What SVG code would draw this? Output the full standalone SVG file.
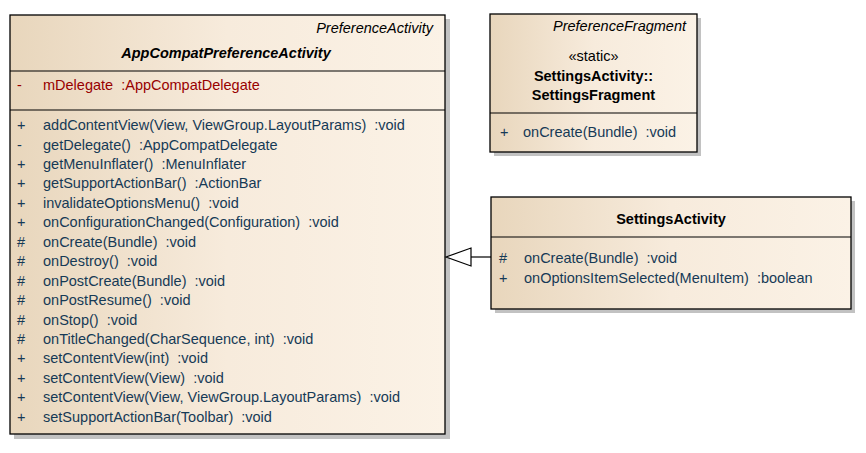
<svg xmlns="http://www.w3.org/2000/svg" width="866" height="453" viewBox="0 0 866 453">
<defs>
<linearGradient id="g" x1="0" y1="0" x2="1" y2="0">
<stop offset="0" stop-color="#E8D6BC"/>
<stop offset="0.5" stop-color="#F7EBDC"/>
<stop offset="1" stop-color="#FBF2E6"/>
</linearGradient>
<style>
text{font-family:"Liberation Sans",Arial,sans-serif;font-size:14.5px;fill:#000;white-space:pre}
.box{fill:url(#g);stroke:#000;stroke-width:1.3}
.sh{fill:#C2C2C2}
.sep{stroke:#000;stroke-width:1.2}
.it{font-style:italic}
.b{font-weight:bold}
.bi{font-weight:bold;font-style:italic}
.m{fill:#163A56}
.a{fill:#980000}
.mid{text-anchor:middle}
.end{text-anchor:end}
</style>
</defs>
<rect width="866" height="453" fill="#fff"/>

<g id="AppCompatPreferenceActivity">
<rect class="sh" x="14" y="19" width="436" height="420"/>
<rect class="box" x="10" y="15" width="435" height="419"/>
<line class="sep" x1="10" y1="71" x2="445" y2="71"/>
<line class="sep" x1="10" y1="110" x2="445" y2="110"/>
<text class="it end" x="433" y="33">PreferenceActivity</text>
<text class="bi mid" x="226" y="58">AppCompatPreferenceActivity</text>
<text class="a" x="17" y="90">-</text>
<text class="a" x="43" y="90" xml:space="preserve">mDelegate  :AppCompatDelegate</text>
<g class="m" xml:space="preserve">
<text class="m" x="17" y="130">+</text><text class="m" x="43" y="130">addContentView(View, ViewGroup.LayoutParams)  :void</text>
<text class="m" x="17" y="149.5">-</text><text class="m" x="43" y="149.5">getDelegate()  :AppCompatDelegate</text>
<text class="m" x="17" y="168.9">+</text><text class="m" x="43" y="168.9">getMenuInflater()  :MenuInflater</text>
<text class="m" x="17" y="188.4">+</text><text class="m" x="43" y="188.4">getSupportActionBar()  :ActionBar</text>
<text class="m" x="17" y="207.8">+</text><text class="m" x="43" y="207.8">invalidateOptionsMenu()  :void</text>
<text class="m" x="17" y="227.3">+</text><text class="m" x="43" y="227.3">onConfigurationChanged(Configuration)  :void</text>
<text class="m" x="17" y="246.7">#</text><text class="m" x="43" y="246.7">onCreate(Bundle)  :void</text>
<text class="m" x="17" y="266.2">#</text><text class="m" x="43" y="266.2">onDestroy()  :void</text>
<text class="m" x="17" y="285.6">#</text><text class="m" x="43" y="285.6">onPostCreate(Bundle)  :void</text>
<text class="m" x="17" y="305.1">#</text><text class="m" x="43" y="305.1">onPostResume()  :void</text>
<text class="m" x="17" y="324.5">#</text><text class="m" x="43" y="324.5">onStop()  :void</text>
<text class="m" x="17" y="344">#</text><text class="m" x="43" y="344">onTitleChanged(CharSequence, int)  :void</text>
<text class="m" x="17" y="363.4">+</text><text class="m" x="43" y="363.4">setContentView(int)  :void</text>
<text class="m" x="17" y="382.9">+</text><text class="m" x="43" y="382.9">setContentView(View)  :void</text>
<text class="m" x="17" y="402.3">+</text><text class="m" x="43" y="402.3">setContentView(View, ViewGroup.LayoutParams)  :void</text>
<text class="m" x="17" y="421.8">+</text><text class="m" x="43" y="421.8">setSupportActionBar(Toolbar)  :void</text>
</g>
</g>

<g id="SettingsFragment">
<rect class="sh" x="494" y="18" width="207" height="138"/>
<rect class="box" x="490" y="14" width="207" height="138"/>
<line class="sep" x1="490" y1="113" x2="697" y2="113"/>
<text class="it end" x="686" y="31">PreferenceFragment</text>
<text class="mid" x="593.5" y="61">«static»</text>
<text class="b mid" x="593.5" y="80.5">SettingsActivity::</text>
<text class="b mid" x="593.5" y="100">SettingsFragment</text>
<text class="m" x="500" y="137">+</text>
<text class="m" x="523" y="137" xml:space="preserve">onCreate(Bundle)  :void</text>
</g>

<g id="SettingsActivity">
<rect class="sh" x="495" y="201" width="360" height="112"/>
<rect class="box" x="491" y="197" width="360" height="112"/>
<line class="sep" x1="491" y1="237" x2="851" y2="237"/>
<text class="b mid" x="671" y="224">SettingsActivity</text>
<text class="m" x="499" y="263">#</text>
<text class="m" x="524" y="263" xml:space="preserve">onCreate(Bundle)  :void</text>
<text class="m" x="499" y="282.5">+</text>
<text class="m" x="524" y="282.5" xml:space="preserve">onOptionsItemSelected(MenuItem)  :boolean</text>
</g>

<g id="connectors">
<line x1="471" y1="257" x2="491" y2="257" stroke="#000" stroke-width="1.2"/>
<polygon points="446,257 471,248 471,266" fill="#fff" stroke="#000" stroke-width="1.2"/>
</g>
</svg>
